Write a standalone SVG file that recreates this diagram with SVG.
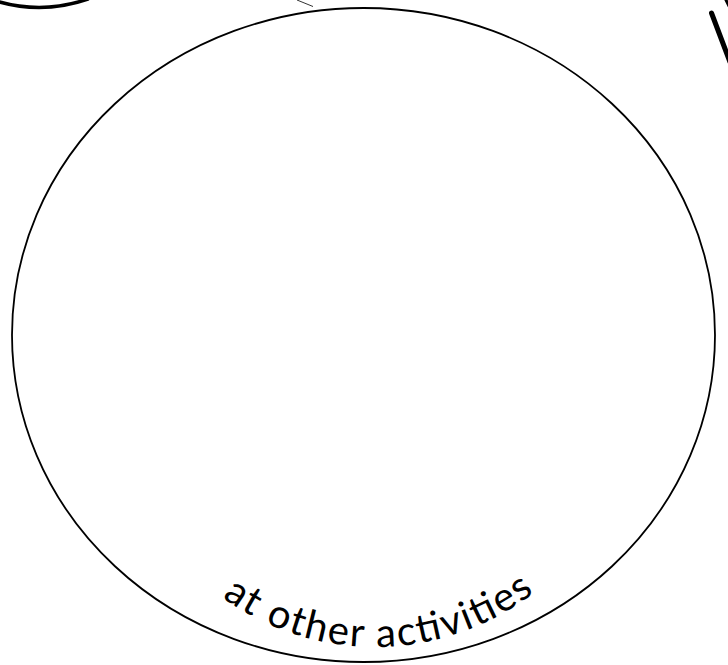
<svg xmlns="http://www.w3.org/2000/svg" width="728" height="665" viewBox="0 0 728 665">
<style>
.outline{fill:none;stroke:#000;stroke-width:1.8}
.thick{fill:none;stroke:#000;stroke-linecap:round}
.label{font-family:Lato,"Liberation Sans",sans-serif;font-weight:400;font-size:40px;fill:#000}
</style>
<defs>
<path id="arc" d="M115,387 A260,260 0 0 0 635,387"/>
</defs>
<rect width="728" height="665" fill="#fff"/>
<g id="fragments">
<path class="thick" stroke-width="3.5" d="M-2,1.5 Q43,14.5 88,-1"/>
<path fill="none" stroke="#333" stroke-width="1" d="M297,0 L313,6.5"/>
<path class="thick" stroke-width="5" d="M711.5,13 L730,62"/>
<path class="thick" stroke-width="3" d="M725,-2 L729,6"/>
</g>
<g id="circle">
<ellipse class="outline" cx="363.5" cy="335" rx="351.5" ry="327"/>
<text class="label"><textPath href="#arc" startOffset="50.5%" text-anchor="middle" textLength="335" lengthAdjust="spacing">at other activities</textPath></text>
</g>
</svg>
